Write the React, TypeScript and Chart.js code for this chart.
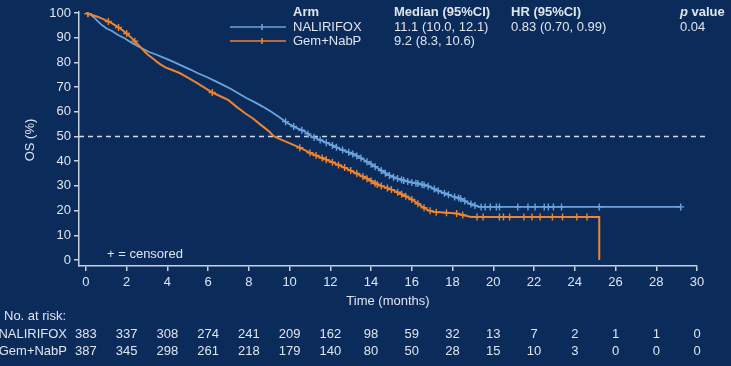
import { useEffect, useRef } from "react";
import { Chart, registerables } from "chart.js";

Chart.register(...registerables);

// Arms and summary statistics
const armNames = ["NALIRIFOX", "Gem+NabP"];
const armMedians = ["11.1 (10.0, 12.1)", "9.2 (8.3, 10.6)"];
const hazardRatio = "0.83 (0.70, 0.99)";
const pValue = "0.04";

// Kaplan–Meier estimates (months, % alive)
const naliTimes = [
  0, 0.2, 0.4, 0.6, 0.8, 1.0, 1.3, 1.6, 1.9, 2.2, 2.5, 2.8, 3.1, 3.5, 3.9, 4.3,
  4.7, 5.1, 5.5, 5.9, 6.3, 6.7, 7.1, 7.5, 7.9, 8.3, 8.7, 9.1, 9.5, 9.9, 10.3,
  10.7, 11.1, 11.3, 11.6, 12.0, 12.4, 12.8, 13.2, 13.6, 14.0, 14.4, 14.8, 15.2,
  15.6, 16.0, 16.4, 16.8, 17.2, 17.6, 18.0, 18.4, 18.7, 19.0, 19.3, 29.2,
];
const naliSurvival = [
  100, 99.5, 98.2, 96.5, 95, 93.8, 92.6, 91, 89.8, 88.2, 86.8, 85.5, 84.2, 83,
  81.6, 80.2, 78.7, 77.2, 75.6, 74.2, 72.6, 71, 69.3, 67.4, 65.5, 63.8, 62, 60,
  57.8, 55.4, 53.6, 52.2, 49.9, 49.3, 48.2, 46.8, 45.2, 43.9, 42.6, 40.8, 38.8,
  36.8, 34.6, 33.2, 32.2, 31.4, 30.8, 29.9, 28.4, 27, 25.8, 24.8, 23.4, 22.3,
  21.5, 21.5,
];
const gemTimes = [
  0, 0.3, 0.6, 0.9, 1.2, 1.5, 1.8, 2.1, 2.4, 2.7, 3.0, 3.3, 3.6, 3.9, 4.2, 4.6,
  5.0, 5.4, 5.8, 6.2, 6.6, 7.0, 7.4, 7.8, 8.2, 8.6, 9.0, 9.2, 9.5, 9.9, 10.3,
  10.7, 11.1, 11.5, 11.9, 12.3, 12.7, 13.1, 13.5, 13.9, 14.3, 14.7, 15.1, 15.5,
  15.9, 16.2, 16.5, 16.8, 17.1, 17.6, 18.2, 18.6, 18.9, 25.2, 25.2,
];
const gemSurvival = [
  100, 99.2, 98.4, 97.3, 96.2, 94.7, 93, 91, 88.6, 86, 83.4, 81.5, 79.5, 78, 77,
  75.7, 73.8, 71.9, 69.9, 67.8, 66.3, 64.7, 62, 59.5, 57.3, 54.6, 52, 50.2, 49,
  47.6, 46.2, 44.7, 43, 41.6, 40.3, 38.8, 37.4, 35.8, 34.2, 32.5, 30.6, 29.4,
  28.2, 26.6, 25, 23.4, 21.6, 20.2, 19.4, 19.2, 18.8, 18.0, 17.4, 17.4, 0,
];

// Censoring times (months)
const naliCensored = [
  0.1, 9.8, 10.2, 10.6, 10.9, 11.2, 11.5, 11.8, 12.1, 12.3, 12.6, 12.9, 13.1,
  13.3, 13.5, 13.8, 14.0, 14.2, 14.5, 14.7, 14.9, 15.1, 15.3, 15.5, 15.6, 15.8,
  16.0, 16.2, 16.3, 16.5, 16.6, 16.8, 17.1, 17.3, 17.6, 17.8, 18.1, 18.3, 18.4,
  18.6, 18.9, 19.1, 19.4, 19.6, 19.85, 20.15, 20.3, 21.2, 21.7, 22.05, 22.5,
  22.7, 22.95, 23.35, 25.2, 29.2,
];
const gemCensored = [
  0.1, 1.1, 1.6, 2.0, 2.4, 6.2, 10.5, 11.0, 11.3, 11.6, 11.8, 12.1, 12.4, 12.7,
  13.0, 13.3, 13.6, 13.8, 14.0, 14.2, 14.3, 14.5, 14.8, 15.0, 15.3, 15.5, 15.7,
  16.0, 16.3, 16.6, 16.9, 17.2, 17.7, 18.2, 18.5, 19.2, 19.5, 20.3, 20.5, 20.8,
  21.5, 21.9, 22.3, 22.9, 23.4, 24.1, 24.6,
];

// Number at risk
const riskTimes = [0, 2, 4, 6, 8, 10, 12, 14, 16, 18, 20, 22, 24, 26, 28, 30];
const naliAtRisk = [383, 337, 308, 274, 241, 209, 162, 98, 59, 32, 13, 7, 2, 1, 1, 0];
const gemAtRisk = [387, 345, 298, 261, 218, 179, 140, 80, 50, 28, 15, 10, 3, 0, 0, 0];

const xTicks = riskTimes;
const yTicks = [0, 10, 20, 30, 40, 50, 60, 70, 80, 90, 100];
const medianLine = 50;

const BG = "#0b2b5b";
const AXIS = "#c9d1dd";
const TEXT = "#dfe5ee";
const BLUE = "#6aa3dd";
const ORANGE = "#ec8430";
const FONT = "'Liberation Sans', Arial, sans-serif";
const FS = 13;

// Value on the drawn curve at time t
function survivalAt(times: number[], surv: number[], t: number) {
  for (let i = 1; i < times.length; i++) {
    if (t <= times[i]) {
      const t0 = times[i - 1];
      const t1 = times[i];
      if (t1 === t0) return surv[i - 1];
      return surv[i - 1] + ((surv[i] - surv[i - 1]) * (t - t0)) / (t1 - t0);
    }
  }
  return surv[surv.length - 1];
}

const toPoints = (xs: number[], ys: number[]) => xs.map((x, i) => ({ x, y: ys[i] }));
const censorPoints = (cs: number[], xs: number[], ys: number[]) =>
  cs.map((c) => ({ x: c, y: survivalAt(xs, ys, c) }));

const decorations = {
  id: "decorations",
  beforeDatasetsDraw(chart: any) {
    const { ctx, chartArea, scales } = chart;
    const y = scales.y.getPixelForValue(medianLine);
    ctx.save();
    ctx.strokeStyle = "#d3d9e4";
    ctx.lineWidth = 1.5;
    ctx.setLineDash([5, 4]);
    ctx.beginPath();
    ctx.moveTo(chartArea.left, y);
    ctx.lineTo(chartArea.right + 9, y);
    ctx.stroke();
    ctx.restore();
  },
  afterDraw(chart: any) {
    const { ctx, chartArea, scales } = chart;
    const xs = scales.x;
    ctx.save();
    ctx.fillStyle = TEXT;
    ctx.textBaseline = "middle";

    // Axis titles
    ctx.font = `${FS}px ${FONT}`;
    ctx.textAlign = "center";
    ctx.fillText("Time (months)", (chartArea.left + chartArea.right) / 2, 301);
    ctx.save();
    ctx.translate(30, 140);
    ctx.rotate(-Math.PI / 2);
    ctx.fillText("OS (%)", 0, 0);
    ctx.restore();

    // Censor note
    ctx.textAlign = "left";
    ctx.fillText("+ = censored", 107, 254);

    // Legend table
    const rowY = [27, 41];
    const colors = [BLUE, ORANGE];
    ctx.font = `bold ${FS}px ${FONT}`;
    ctx.fillText("Arm", 293, 12);
    ctx.fillText("Median (95%CI)", 394, 12);
    ctx.fillText("HR (95%CI)", 511, 12);
    ctx.font = `italic bold ${FS}px ${FONT}`;
    ctx.fillText("p", 680, 12);
    const pw = ctx.measureText("p").width;
    ctx.font = `bold ${FS}px ${FONT}`;
    ctx.fillText(" value", 680 + pw, 12);

    ctx.font = `${FS}px ${FONT}`;
    armNames.forEach((name, i) => {
      const yy = rowY[i];
      ctx.strokeStyle = colors[i];
      ctx.lineWidth = 1.6;
      ctx.beginPath();
      ctx.moveTo(230, yy);
      ctx.lineTo(286, yy);
      ctx.moveTo(262, yy - 3);
      ctx.lineTo(262, yy + 3);
      ctx.stroke();
      ctx.fillStyle = TEXT;
      ctx.fillText(name, 293, yy);
      ctx.fillText(armMedians[i], 394, yy);
    });
    ctx.fillText(hazardRatio, 511, rowY[0]);
    ctx.fillText(pValue, 680, rowY[0]);

    // Number at risk
    ctx.textAlign = "left";
    ctx.fillText("No. at risk:", 4, 316);
    ctx.textAlign = "right";
    ctx.fillText(armNames[0], 67, 334);
    ctx.fillText(armNames[1], 67, 351);
    ctx.textAlign = "center";
    riskTimes.forEach((t, i) => {
      const px = xs.getPixelForValue(t);
      ctx.fillText(String(naliAtRisk[i]), px, 334);
      ctx.fillText(String(gemAtRisk[i]), px, 351);
    });
    ctx.restore();
  },
};

export default function App() {
  const ref = useRef<HTMLCanvasElement | null>(null);

  useEffect(() => {
    if (!ref.current) return;
    const axisCommon = {
      type: "linear" as const,
      grid: {
        drawOnChartArea: false,
        drawTicks: true,
        tickLength: 5,
        color: AXIS,
        lineWidth: 1.5,
      },
      border: { display: true, color: AXIS, width: 1.5 },
    };
    const chart = new Chart(ref.current, {
      type: "line",
      data: {
        datasets: [
          {
            label: armNames[1],
            data: toPoints(gemTimes, gemSurvival),
            borderColor: ORANGE,
            borderWidth: 2,
            pointRadius: 0,
            tension: 0,
            fill: false,
          },
          {
            label: armNames[1] + " censored",
            data: censorPoints(gemCensored, gemTimes, gemSurvival),
            showLine: false,
            pointStyle: "cross",
            pointRadius: 3.5,
            pointBorderWidth: 1.4,
            borderColor: ORANGE,
            backgroundColor: ORANGE,
          },
          {
            label: armNames[0],
            data: toPoints(naliTimes, naliSurvival),
            borderColor: BLUE,
            borderWidth: 1.8,
            pointRadius: 0,
            tension: 0,
            fill: false,
          },
          {
            label: armNames[0] + " censored",
            data: censorPoints(naliCensored, naliTimes, naliSurvival),
            showLine: false,
            pointStyle: "cross",
            pointRadius: 3.5,
            pointBorderWidth: 1.4,
            borderColor: BLUE,
            backgroundColor: BLUE,
          },
        ],
      },
      options: {
        animation: false,
        responsive: false,
        maintainAspectRatio: false,
        layout: { padding: { top: 12, right: 34, left: 0, bottom: 0 } },
        plugins: { legend: { display: false }, tooltip: { enabled: false } },
        scales: {
          x: {
            ...axisCommon,
            min: -0.34,
            max: 30,
            afterBuildTicks: (axis: any) => {
              axis.ticks = xTicks.map((v) => ({ value: v }));
            },
            afterFit: (scale: any) => {
              scale.height = 100;
            },
            ticks: {
              color: TEXT,
              font: { family: FONT, size: FS },
              padding: 4,
              maxRotation: 0,
              autoSkip: false,
            },
          },
          y: {
            ...axisCommon,
            min: -2.43,
            max: 100.4,
            afterBuildTicks: (axis: any) => {
              axis.ticks = yTicks.map((v) => ({ value: v }));
            },
            afterFit: (scale: any) => {
              scale.width = 79;
            },
            ticks: {
              color: TEXT,
              font: { family: FONT, size: FS },
              padding: 3,
              autoSkip: false,
            },
          },
        },
      },
      plugins: [decorations],
    });
    return () => chart.destroy();
  }, []);

  return (
    <div
      style={{
        position: "fixed",
        left: 0,
        top: 0,
        width: 731,
        height: 366,
        background: BG,
      }}
    >
      <canvas ref={ref} width={731} height={366} style={{ display: "block" }} />
    </div>
  );
}
